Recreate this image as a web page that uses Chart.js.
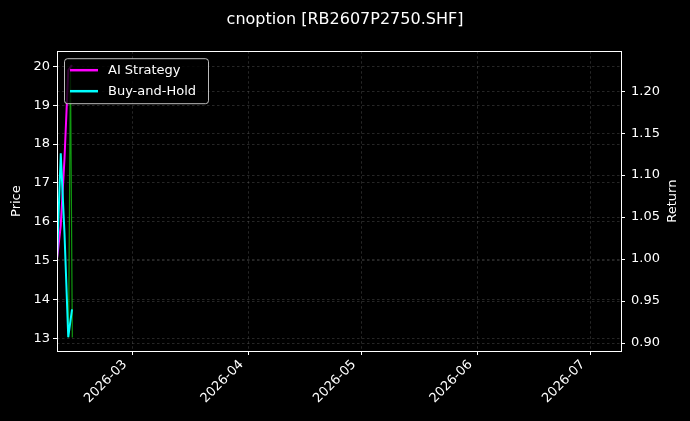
<!DOCTYPE html>
<html>
<head>
<meta charset="utf-8">
<script src="https://cdn.jsdelivr.net/npm/chart.js@4.4.1/dist/chart.umd.min.js"></script>
<style>
  html, body { margin: 0; padding: 0; background: #000; }
  #wrap { width: 690px; height: 421px; }
</style>
</head>
<body>
<div id="wrap"><canvas id="chart"></canvas></div>
<script>
// data
const dates = ['2026-02-09', '2026-02-10', '2026-02-11', '2026-02-12', '2026-02-13']
const strategyReturn = [1.0, 1.04, 1.12, 1.225, 1.231]
const buyHoldReturn = [1.0, 1.126, 1.03, 0.907, 0.94]
const priceDates = ['2026-02-12T02:00', '2026-02-12T14:00', '2026-02-13T02:00']
const priceValues = [13.02, 20.04, 13.02]
const monthTicks = ['2026-03-01', '2026-04-01', '2026-05-01', '2026-06-01', '2026-07-01']
const priceTicks = [13, 14, 15, 16, 17, 18, 19, 20]
const returnTicks = [0.9, 0.95, 1.0, 1.05, 1.1, 1.15, 1.2]

const FONT = "'DejaVu Sans', sans-serif"
const toMs = (s) => Date.parse(s.length === 10 ? s + 'T00:00:00Z' : s + ':00Z')
const points = (xs, ys) => xs.map((d, i) => ({ x: toMs(d), y: ys[i] }))

const gridOpts = {
  color: 'rgba(128, 128, 128, 0.5)',
  lineWidth: 0.6,
  tickColor: '#ffffff',
  tickLength: 4,
  tickWidth: 1,
  tickBorderDash: [],
}

// full box round the plot, like the matplotlib spines
const frame = {
  id: 'frame',
  afterDraw(chart) {
    const { ctx, chartArea: a } = chart
    ctx.save()
    ctx.strokeStyle = '#ffffff'
    ctx.lineWidth = 1
    ctx.strokeRect(Math.round(a.left) + 0.5, Math.round(a.top) + 0.5, Math.round(a.right - a.left), Math.round(a.bottom - a.top))
    ctx.restore()
  },
}

// right axis title reads bottom to top
const rightTitle = {
  id: 'rightTitle',
  afterDraw(chart) {
    const { ctx, chartArea: a } = chart
    ctx.save()
    ctx.translate(673, (a.top + a.bottom) / 2)
    ctx.rotate(-Math.PI / 2)
    ctx.fillStyle = '#ffffff'
    ctx.font = '13px ' + FONT
    ctx.textAlign = 'center'
    ctx.textBaseline = 'middle'
    ctx.fillText('Return', 0, 0)
    ctx.restore()
  },
}

// legend inside the plot, upper left
const innerLegend = {
  id: 'innerLegend',
  afterDatasetsDraw(chart) {
    const { ctx, chartArea: a } = chart
    const items = chart.data.datasets.slice().reverse().filter((ds) => ds.inLegend)
    const x = a.left + 7
    const y = a.top + 7
    const w = 144
    const h = 45
    ctx.save()
    ctx.beginPath()
    ctx.roundRect(x + 0.5, y + 0.5, w, h, 3)
    ctx.fillStyle = 'rgba(0, 0, 0, 0.8)'
    ctx.fill()
    ctx.strokeStyle = 'rgba(220, 220, 220, 0.85)'
    ctx.lineWidth = 1
    ctx.stroke()
    ctx.font = '13px ' + FONT
    ctx.textBaseline = 'middle'
    items.forEach((ds, i) => {
      const ly = y + 12 + i * 21
      ctx.strokeStyle = ds.borderColor
      ctx.lineWidth = 2.5
      ctx.beginPath()
      ctx.moveTo(x + 6, ly)
      ctx.lineTo(x + 34, ly)
      ctx.stroke()
      ctx.fillStyle = '#ffffff'
      ctx.fillText(ds.label, x + 44, ly)
    })
    ctx.restore()
  },
}

const ctx = document.querySelector('#chart')
const chart = new Chart(ctx, {
  type: 'line',
  data: {
    datasets: [
      {
        label: 'Buy-and-Hold',
        data: points(dates, buyHoldReturn),
        yAxisID: 'yReturn',
        borderColor: '#00ffff',
        borderWidth: 2,
        inLegend: true,
      },
      {
        label: 'AI Strategy',
        data: points(dates, strategyReturn),
        yAxisID: 'yReturn',
        borderColor: '#ff00ff',
        borderWidth: 2,
        inLegend: true,
      },
      {
        label: 'Price',
        data: points(priceDates, priceValues),
        yAxisID: 'yPrice',
        borderColor: 'rgba(20, 190, 20, 0.8)',
        borderWidth: 1.2,
        inLegend: false,
      },
    ],
  },
  options: {
    responsive: true,
    maintainAspectRatio: false,
    animation: false,
    layout: { padding: 0 },
    elements: {
      point: { radius: 0, hoverRadius: 0 },
      line: { tension: 0 },
    },
    scales: {
      x: {
        type: 'linear',
        min: toMs('2026-02-09'),
        max: toMs('2026-07-09T06:00'),
        afterBuildTicks: (scale) => {
          scale.ticks = monthTicks.map((d) => ({ value: toMs(d) }))
        },
        afterFit: (scale) => {
          scale.height = 70
        },
        ticks: {
          color: '#ffffff',
          font: { family: FONT, size: 13 },
          autoSkip: false,
          maxRotation: 45,
          minRotation: 45,
          padding: 2,
          labelOffset: -7,
          callback: (value) => new Date(value).toISOString().slice(0, 7),
        },
        grid: gridOpts,
        border: { display: false, dash: [2.5, 2.5] },
      },
      yPrice: {
        type: 'linear',
        position: 'left',
        min: 12.67,
        max: 20.39,
        afterBuildTicks: (scale) => {
          scale.ticks = priceTicks.map((v) => ({ value: v }))
        },
        afterFit: (scale) => {
          scale.width = 57
        },
        ticks: {
          color: '#ffffff',
          font: { family: FONT, size: 13 },
          padding: 3,
        },
        title: {
          display: true,
          text: 'Price',
          color: '#ffffff',
          font: { family: FONT, size: 13 },
          padding: { top: 9, bottom: 0 },
        },
        grid: gridOpts,
        border: { display: false, dash: [2.5, 2.5] },
      },
      yReturn: {
        type: 'linear',
        position: 'right',
        min: 0.8905,
        max: 1.2476,
        afterBuildTicks: (scale) => {
          scale.ticks = returnTicks.map((v) => ({ value: v }))
        },
        afterFit: (scale) => {
          scale.width = 69
        },
        ticks: {
          color: '#ffffff',
          font: { family: FONT, size: 13 },
          padding: 6,
          callback: (value) => value.toFixed(2),
        },
        grid: gridOpts,
        border: { display: false, dash: [2.5, 2.5] },
      },
    },
    plugins: {
      legend: { display: false },
      tooltip: { enabled: false },
      title: {
        display: true,
        text: 'cnoption [RB2607P2750.SHF]',
        color: '#ffffff',
        font: { family: FONT, size: 16, weight: 'normal' },
        padding: { top: 10, bottom: 22 },
      },
    },
  },
  plugins: [frame, rightTitle, innerLegend],
})
</script>
</body>
</html>
